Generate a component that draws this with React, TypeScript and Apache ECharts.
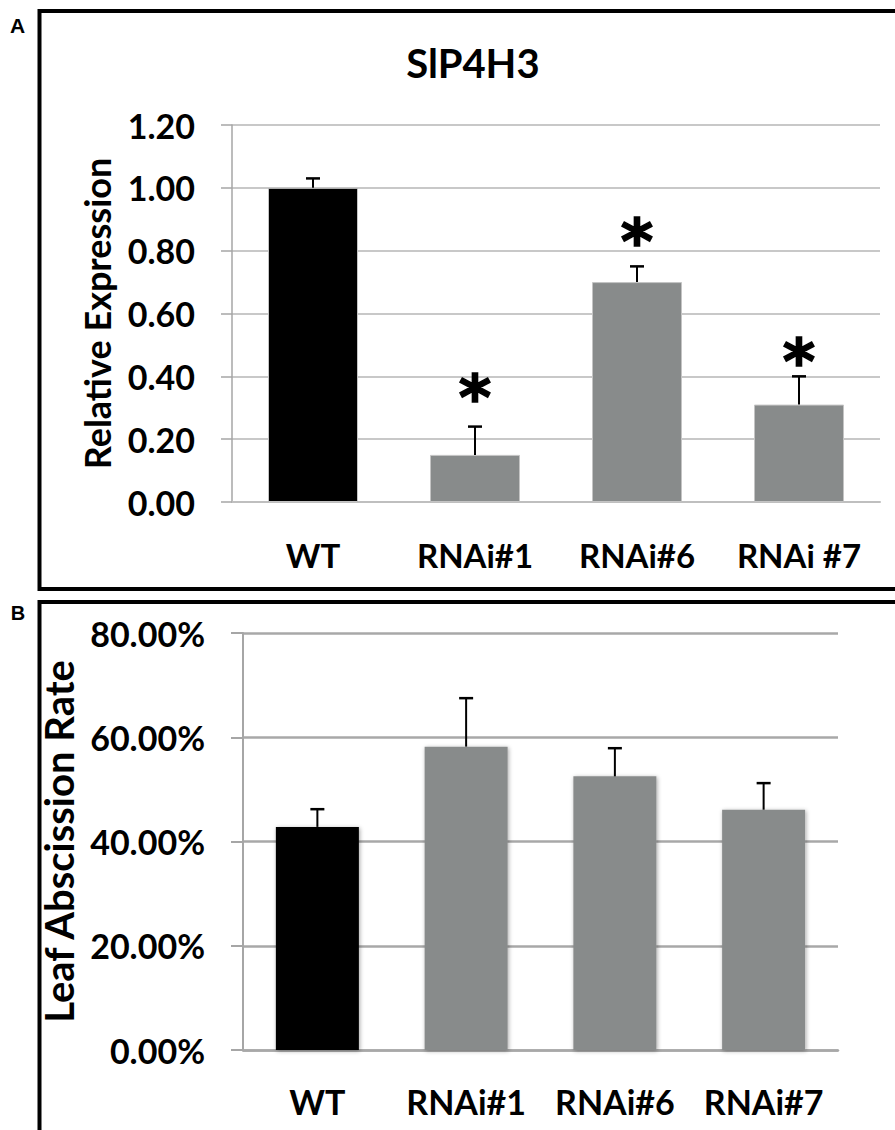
import React, { useEffect, useRef } from "react";
import * as echarts from "echarts";

const categoriesA = ["WT", "RNAi#1", "RNAi#6", "RNAi #7"];
const expression = [1.0, 0.15, 0.7, 0.31];
const expressionErr = [0.03, 0.09, 0.05, 0.09];
const asteriskA = [null, 0.375, 0.87, 0.49];
const ticksA = [0, 0.2, 0.4, 0.6, 0.8, 1.0, 1.2];

const categoriesB = ["WT", "RNAi#1", "RNAi#6", "RNAi#7"];
const abscission = [0.428, 0.582, 0.525, 0.461];
const abscissionErr = [0.034, 0.093, 0.054, 0.051];
const ticksB = [0, 0.2, 0.4, 0.6, 0.8];

const FONT = "Lato";
const BLACK = "#000000";
const GRAY = "#888b8b";

function errorRender(params: any, api: any) {
  const p0 = api.coord([api.value(0), api.value(1)]);
  const p1 = api.coord([api.value(0), api.value(2)]);
  return {
    type: "group",
    children: [
      { type: "line", shape: { x1: p0[0], y1: p0[1], x2: p1[0], y2: p1[1] }, style: { stroke: "#000", lineWidth: 2 } },
      { type: "line", shape: { x1: p1[0] - 7, y1: p1[1], x2: p1[0] + 7, y2: p1[1] }, style: { stroke: "#000", lineWidth: 2.5 } },
    ],
  };
}

function starRender(params: any, api: any) {
  const p = api.coord([api.value(0), api.value(1)]);
  return {
    type: "text",
    x: p[0],
    y: p[1] + 13,
    style: {
      text: "*",
      fill: "#000",
      stroke: "#000",
      lineWidth: 1.5,
      font: "bold 62px 'DejaVu Sans'",
      align: "center",
      verticalAlign: "middle",
    },
  };
}

export default function App() {
  const ref = useRef<HTMLDivElement>(null);
  useEffect(() => {
    if (!ref.current) return;
    const chart = echarts.init(ref.current, null, { renderer: "svg" });
    const labelStyle = { fontFamily: FONT, fontWeight: "bold" as const, color: "#000" };
    const option: any = {
      animation: false,
      backgroundColor: "#fff",
      grid: [
        { left: 232, right: 15, top: 125, bottom: 628 },
        { left: 243, right: 57, top: 633, bottom: 80 },
      ],
      xAxis: [
        {
          type: "category",
          gridIndex: 0,
          data: categoriesA,
          axisTick: { show: false },
          axisLine: { lineStyle: { color: "#bfbfbf", width: 2 } },
          axisLabel: { ...labelStyle, fontSize: 33, margin: 36, interval: 0, hideOverlap: false },
        },
        {
          type: "category",
          gridIndex: 1,
          data: categoriesB,
          axisTick: { show: false },
          axisLine: { lineStyle: { color: "#a8a8a8", width: 2.5 } },
          axisLabel: { ...labelStyle, fontSize: 34, margin: 34, interval: 0, hideOverlap: false },
        },
      ],
      yAxis: [
        {
          type: "value",
          gridIndex: 0,
          min: ticksA[0],
          max: ticksA[ticksA.length - 1],
          interval: 0.2,
          axisLine: { show: true, lineStyle: { color: "#a6a6a6", width: 1.5 } },
          axisTick: { show: true, length: 11, lineStyle: { color: "#a6a6a6", width: 1.5 } },
          splitLine: { lineStyle: { color: "#c8c8c8", width: 2 } },
          axisLabel: { ...labelStyle, fontSize: 34, margin: 37, formatter: (v: number) => v.toFixed(2) },
          name: "Relative Expression",
          nameLocation: "middle",
          nameGap: 117,
          nameTextStyle: { ...labelStyle, fontSize: 36 },
        },
        {
          type: "value",
          gridIndex: 1,
          min: ticksB[0],
          max: ticksB[ticksB.length - 1],
          interval: 0.2,
          axisLine: { show: true, lineStyle: { color: "#a6a6a6", width: 2 } },
          axisTick: { show: true, length: 12, lineStyle: { color: "#a6a6a6", width: 2 } },
          splitLine: { lineStyle: { color: "#a8a8a8", width: 2.5 } },
          axisLabel: { ...labelStyle, fontSize: 34, margin: 38, formatter: (v: number) => (v * 100).toFixed(2) + "%" },
          name: "Leaf Abscission Rate",
          nameLocation: "middle",
          nameGap: 163,
          nameTextStyle: { ...labelStyle, fontSize: 40 },
        },
      ],
      series: [
        {
          type: "bar",
          xAxisIndex: 0,
          yAxisIndex: 0,
          barWidth: 90,
          data: expression.map((v, i) => ({
            value: v,
            itemStyle: { color: i === 0 ? BLACK : GRAY, borderColor: "#c4c4c4", borderWidth: 1 },
          })),
        },
        {
          type: "custom",
          xAxisIndex: 0,
          yAxisIndex: 0,
          z: 10,
          renderItem: errorRender,
          data: expression.map((v, i) => [i, v, v + expressionErr[i]]),
        },
        {
          type: "custom",
          xAxisIndex: 0,
          yAxisIndex: 0,
          z: 10,
          renderItem: starRender,
          data: asteriskA
            .map((v, i) => (v == null ? null : [i, v]))
            .filter((d) => d != null),
        },
        {
          type: "bar",
          xAxisIndex: 1,
          yAxisIndex: 1,
          barWidth: 83,
          data: abscission.map((v, i) => ({
            value: v,
            itemStyle: {
              color: i === 0 ? BLACK : GRAY,
              shadowBlur: 4,
              shadowColor: "rgba(0,0,0,0.35)",
              shadowOffsetX: 1,
              shadowOffsetY: 1,
            },
          })),
        },
        {
          type: "custom",
          xAxisIndex: 1,
          yAxisIndex: 1,
          z: 10,
          renderItem: errorRender,
          data: abscission.map((v, i) => [i, v, v + abscissionErr[i]]),
        },
      ],
      graphic: [
        {
          type: "polyline",
          shape: { points: [[900, 11], [39.5, 11], [39.5, 589], [900, 589]] },
          style: { stroke: "#000", lineWidth: 4, fill: null },
        },
        {
          type: "polyline",
          shape: { points: [[900, 602], [39.5, 602], [39.5, 1140]] },
          style: { stroke: "#000", lineWidth: 4, fill: null },
        },
        {
          type: "text",
          x: 17.5,
          y: 25.5,
          style: { text: "A", font: "bold 21px 'Liberation Sans'", fill: "#000", align: "center", verticalAlign: "middle" },
        },
        {
          type: "text",
          x: 18,
          y: 613,
          style: { text: "B", font: "bold 20px 'Liberation Sans'", fill: "#000", align: "center", verticalAlign: "middle" },
        },
        {
          type: "text",
          x: 473,
          y: 63,
          style: { text: "SlP4H3", font: "bold 40px Lato", fill: "#000", align: "center", verticalAlign: "middle" },
        },
      ],
    };
    chart.setOption(option);
    return () => chart.dispose();
  }, []);
  return (
    <div
      ref={ref}
      style={{ position: "absolute", left: 0, top: 0, width: 895, height: 1130, background: "#fff" }}
    />
  );
}
